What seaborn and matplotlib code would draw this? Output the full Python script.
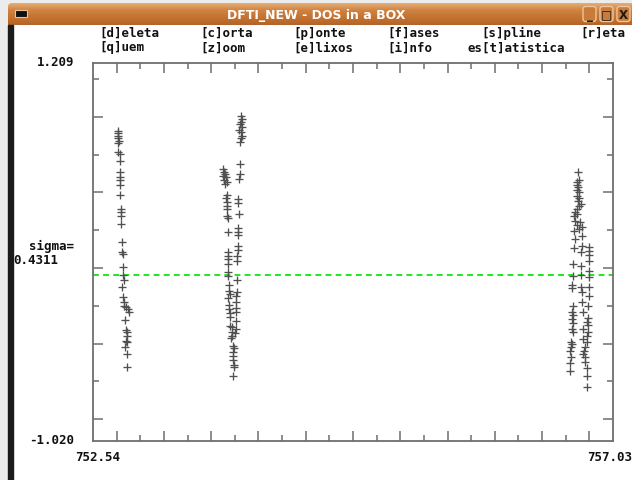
import numpy as np
import pandas as pd
import matplotlib
matplotlib.use("Agg")
import matplotlib.pyplot as plt
from matplotlib.patches import Rectangle, FancyBboxPatch
from matplotlib.ticker import FixedLocator
import seaborn as sns

W, H = 632, 481

# --- observations: time vs. residual, three observing blocks ---
block_a_time = [752.758, 752.758, 752.758, 752.758, 752.767, 752.758, 752.758, 752.773,
                752.773, 752.773, 752.773, 752.773, 752.773, 752.773, 752.782, 752.782,
                752.782, 752.782, 752.793, 752.793, 752.802, 752.802, 752.796, 752.810,
                752.793, 752.802, 752.808, 752.808, 752.825, 752.845, 752.853, 752.816,
                752.825, 752.836, 752.831, 752.825, 752.836, 752.816, 752.836, 752.836]
block_a_resid = [0.810, 0.796, 0.780, 0.765, 0.747, 0.736, 0.682, 0.672,
                 0.633, 0.565, 0.539, 0.521, 0.490, 0.431, 0.348, 0.329,
                 0.305, 0.258, 0.155, 0.093, 0.081, 0.004, -0.039, -0.071,
                 -0.114, -0.169, -0.199, -0.222, -0.232, -0.242, -0.261, -0.305,
                 -0.364, -0.376, -0.399, -0.429, -0.438, -0.468, -0.507, -0.582]

block_b_time = [753.665, 753.674, 753.680, 753.665, 753.688, 753.674, 753.694, 753.680,
                753.694, 753.688, 753.700, 753.694, 753.694, 753.694, 753.708, 753.708,
                753.708, 753.708, 753.708, 753.708, 753.708, 753.708, 753.717, 753.717,
                753.723, 753.708, 753.717, 753.717, 753.723, 753.723, 753.723, 753.738,
                753.738, 753.738, 753.729, 753.751, 753.757, 753.746, 753.751, 753.746,
                753.757, 753.757, 753.751,
                753.815, 753.824, 753.815, 753.809, 753.824, 753.803, 753.815, 753.824,
                753.815, 753.809, 753.809, 753.809, 753.803, 753.795, 753.795, 753.803,
                753.795, 753.795, 753.795, 753.789, 753.789, 753.781, 753.781, 753.781,
                753.781, 753.775, 753.775, 753.772, 753.772, 753.775, 753.775, 753.766]
block_b_resid = [0.584, 0.568, 0.554, 0.544, 0.535, 0.521, 0.509, 0.495,
                 0.431, 0.411, 0.391, 0.367, 0.348, 0.305, 0.293, 0.214,
                 0.096, 0.073, 0.053, 0.024, -0.022, -0.045, -0.100, -0.134,
                 -0.153, -0.179, -0.218, -0.242, -0.265, -0.291, -0.340, -0.350,
                 -0.376, -0.399, -0.414, -0.458, -0.473, -0.497, -0.517, -0.541,
                 -0.572, -0.585, -0.635,
                 0.895, 0.879, 0.863, 0.849, 0.830, 0.816, 0.800, 0.780,
                 0.765, 0.741, 0.613, 0.554, 0.525, 0.407, 0.383, 0.319,
                 0.234, 0.214, 0.195, 0.132, 0.108, 0.073, 0.043, -0.069,
                 -0.140, -0.163, -0.199, -0.238, -0.261, -0.311, -0.360, -0.383]

block_c_time = [756.730, 756.739, 756.722, 756.717, 756.730, 756.722, 756.739, 756.722,
                756.739, 756.730, 756.751, 756.739, 756.717, 756.702, 756.722, 756.693,
                756.702, 756.745, 756.722, 756.760, 756.739, 756.693, 756.760, 756.702,
                756.693, 756.760, 756.825, 756.825, 756.751, 756.825, 756.825, 756.687,
                756.751, 756.825, 756.687, 756.751, 756.825, 756.673, 756.673, 756.751,
                756.825, 756.760, 756.825, 756.687, 756.760, 756.817, 756.673, 756.687,
                756.774, 756.817, 756.673, 756.687, 756.803, 756.817, 756.673, 756.682,
                756.774, 756.817, 756.803, 756.665, 756.673, 756.774, 756.803, 756.665,
                756.788, 756.780, 756.659, 756.774, 756.665, 756.788, 756.788, 756.659,
                756.803, 756.659, 756.803, 756.803]
block_c_resid = [0.565, 0.521, 0.506, 0.490, 0.476, 0.462, 0.447, 0.427,
                 0.411, 0.397, 0.378, 0.364, 0.348, 0.332, 0.319, 0.305,
                 0.279, 0.270, 0.254, 0.244, 0.230, 0.220, 0.191, 0.171,
                 0.116, 0.128, 0.122, 0.102, 0.093, 0.077, 0.043, 0.024,
                 0.014, -0.016, -0.049, -0.041, -0.055, -0.100, -0.120, -0.114,
                 -0.114, -0.140, -0.167, -0.222, -0.202, -0.226, -0.258, -0.277,
                 -0.261, -0.297, -0.301, -0.324, -0.320, -0.336, -0.360, -0.376,
                 -0.360, -0.379, -0.399, -0.434, -0.448, -0.419, -0.438, -0.468,
                 -0.468, -0.488, -0.488, -0.507, -0.526, -0.526, -0.552, -0.560,
                 -0.591, -0.605, -0.635, -0.700]

x_min, x_max = 752.54, 757.03
y_min, y_max = -1.020, 1.209
sigma = 0.4311
mean_level = -0.039

menu_row1 = ["[d]eleta", "[c]orta", "[p]onte", "[f]ases", "[s]pline", "[r]eta"]
menu_row2 = ["[q]uem", "[z]oom", "[e]lixos", "[i]nfo", "es[t]atistica"]
window_title = "DFTI_NEW - DOS in a BOX"

df = pd.DataFrame({
    "time": block_a_time + block_b_time + block_c_time,
    "resid": block_a_resid + block_b_resid + block_c_resid,
})

sns.set_style("white")
plt.rcParams["font.family"] = ["DejaVu Sans Mono", "DejaVu Sans"]

fig = plt.figure(figsize=(W / 100, H / 100), dpi=100)
fig.patch.set_facecolor("white")

# ---- window frame, drawn in pixel coordinates ----
bg = fig.add_axes([0, 0, 1, 1], zorder=0)
bg.set_xlim(0, W)
bg.set_ylim(H, 0)
bg.axis("off")
bg.add_patch(Rectangle((0, 0), W, H, color="#ececec", zorder=0))
bg.add_patch(Rectangle((8, 26), W - 8, H - 26, color="white", zorder=1))

grad = np.linspace(0, 1, 64).reshape(-1, 1)
bar_cmap = matplotlib.colors.LinearSegmentedColormap.from_list(
    "bar", ["#e6ad72", "#cf8241", "#c4722f", "#b4642a"])
bar_img = bg.imshow(grad, cmap=bar_cmap, aspect="auto", extent=[8, W, 26, 4], zorder=2)
bar_clip = FancyBboxPatch((8, 4), W + 20, 30, boxstyle="round,pad=0,rounding_size=4",
                          transform=bg.transData, facecolor="none", edgecolor="none")
bg.add_patch(bar_clip)
bar_img.set_clip_path(bar_clip)
bg.add_patch(Rectangle((8, 26), 4.5, H - 26, color="#1b1b1b", zorder=3))
bg.add_patch(Rectangle((15, 11), 12, 7, facecolor="#111111",
                       edgecolor="#e9c49a", lw=0.8, zorder=3))
bg.text(316, 15, window_title, color="white", fontsize=9, fontweight="bold",
        family=["DejaVu Sans"], ha="center", va="center", zorder=4)
for bx, sym in zip([583, 600, 617], ["_", "\u25a1", "X"]):
    bg.add_patch(FancyBboxPatch((bx, 7.5), 13, 15, boxstyle="round,pad=0,rounding_size=2.5",
                                facecolor="#c87b3b", edgecolor="#eec49c", lw=1.0, zorder=3))
    bg.text(bx + 6.5, 15.5, sym, color="#1a1a1a", fontsize=8.5, fontweight="bold",
            family=["DejaVu Sans"], ha="center", va="center", zorder=4)

menu_x = [99, 200, 293, 387, 481, 580]
for label, mx in zip(menu_row1, menu_x):
    bg.text(mx, 33, label, fontsize=9, fontweight="bold", color="#111111",
            ha="left", va="center", zorder=4)
for label, mx in zip(menu_row2, [99, 200, 293, 387, 467]):
    bg.text(mx, 48, label, fontsize=9, fontweight="bold", color="#111111",
            ha="left", va="center", zorder=4)

# ---- plot area ----
left, top, right, bottom = 93, 64, 613, 442
ax = fig.add_axes([left / W, 1 - bottom / H, (right - left) / W, (bottom - top) / H], zorder=2)
ax.set_facecolor("none")

sns.scatterplot(data=df, x="time", y="resid", marker="+", s=26, color="#505050",
                linewidth=0.95, ax=ax, legend=False, zorder=3)
ax.axhline(mean_level, color="#1ee81e", lw=1.4, dashes=(3, 2.2), zorder=2)

ax.set_xlim(x_min, x_max)
ax.set_ylim(y_min, y_max)
ax.set_xlabel("")
ax.set_ylabel("")

x_step = (x_max - x_min) / 22
x_major = [x_min + k * x_step for k in range(1, 22, 2)]
x_minor = [x_min + k * x_step for k in range(2, 22, 2)]
y_step = (y_max - y_min) / 10
ks = range(int(np.ceil(y_min / y_step)), int(np.floor(y_max / y_step)) + 1)
y_major = [k * y_step for k in ks if k % 2 == 0]
y_minor = [k * y_step for k in ks if k % 2 != 0]
ax.xaxis.set_major_locator(FixedLocator(x_major))
ax.xaxis.set_minor_locator(FixedLocator(x_minor))
ax.yaxis.set_major_locator(FixedLocator(y_major))
ax.yaxis.set_minor_locator(FixedLocator(y_minor))

frame_col = "#6e6e6e"
ax.tick_params(which="both", direction="in", color=frame_col, width=1.1,
               left=True, right=True, top=True, bottom=True,
               labelleft=False, labelbottom=False, labeltop=False, labelright=False)
ax.tick_params(which="major", length=7.2)
ax.tick_params(which="minor", length=4.0)
for sp in ax.spines.values():
    sp.set_visible(True)
    sp.set_color(frame_col)
    sp.set_linewidth(1.3)

# axis range labels and sigma read-out
lab_kw = dict(fontsize=9, fontweight="bold", color="#111111", zorder=4)
bg.text(74, 63, f"{y_max:.3f}", ha="right", va="center", **lab_kw)
bg.text(74, 441, f"{y_min:.3f}", ha="right", va="center", **lab_kw)
bg.text(98, 458, f"{x_min:.2f}", ha="center", va="center", **lab_kw)
bg.text(587, 458, f"{x_max:.2f}", ha="left", va="center", **lab_kw)
bg.text(74, 246, "sigma=", ha="right", va="center", **lab_kw)
bg.text(13, 261, f"{sigma:.4f}", ha="left", va="center", **lab_kw)

fig.savefig("out.png", dpi=100)
